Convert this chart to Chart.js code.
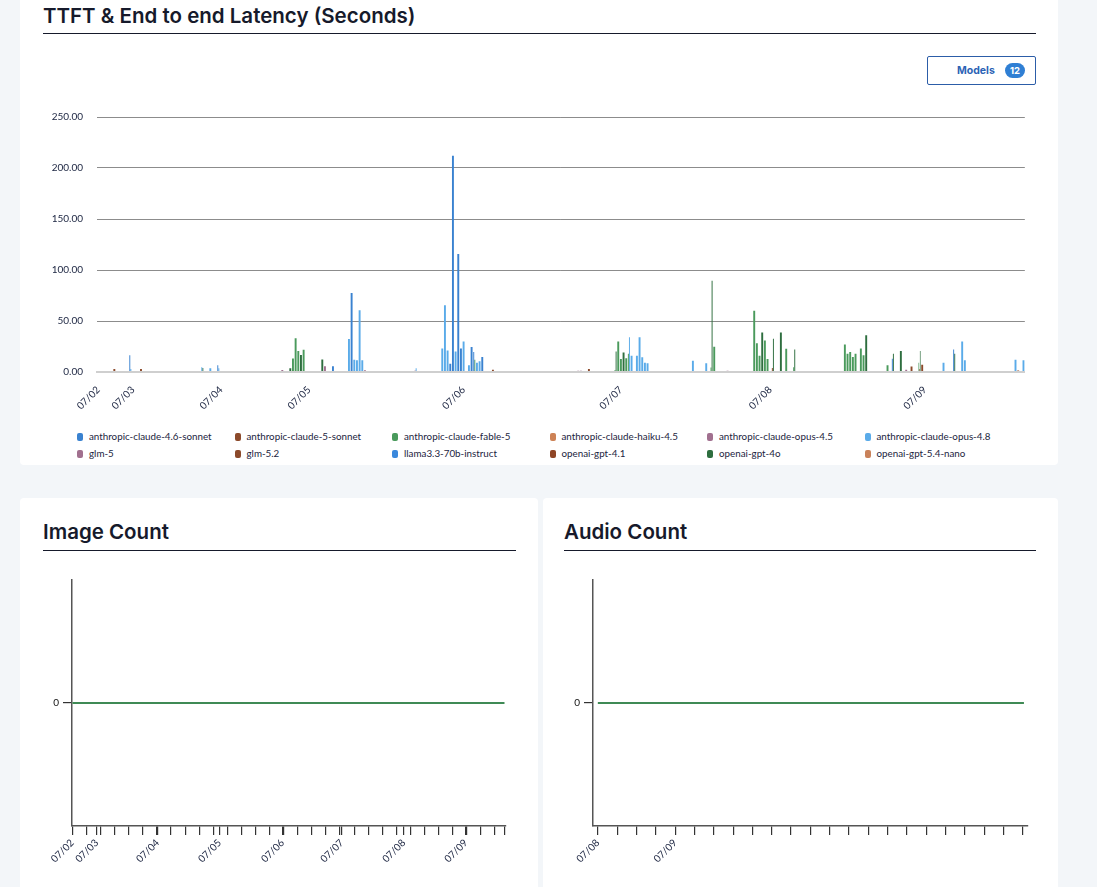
<!DOCTYPE html>
<html>
<head>
<meta charset="utf-8">
<title>Latency dashboard</title>
<script src="https://cdn.jsdelivr.net/npm/chart.js@4.4.1/dist/chart.umd.min.js"></script>
<style>
  body { margin: 0; width: 1097px; height: 887px; overflow: hidden; position: relative; background: #f3f6f9; font-family: Lato, "Open Sans", sans-serif; }
  .card { position: absolute; background: #fff; border-radius: 4px; }
  .title { position: absolute; font-family: Inter, sans-serif; font-weight: 600; font-size: 20.5px; line-height: 22px; color: #161a2b; white-space: nowrap; }
  .rule { position: absolute; height: 1px; background: #161a2b; }
  .box { position: absolute; }
  .models { position: absolute; left: 927px; top: 56px; width: 107px; height: 27px; border: 1px solid #2c5da8; border-radius: 2px; font-family: Inter, sans-serif; }
  .models span.t { position: absolute; left: 29px; top: 7px; font-size: 10.5px; font-weight: 700; color: #2c63b5; }
  .models span.b { position: absolute; left: 77px; top: 6px; width: 20px; height: 15px; border-radius: 8px; background: #2f7fd4; color: #fff; font-size: 9.5px; font-weight: 700; text-align: center; line-height: 15px; }
  #legend { position: absolute; left: 77px; top: 430px; display: grid; grid-template-columns: repeat(6, 157.5px); row-gap: 4px; }
  #legend div { font-size: 9.8px; color: #1b2440; height: 13px; line-height: 13px; white-space: nowrap; }
  #legend i { display: inline-block; width: 6px; height: 8px; border-radius: 2px; margin-right: 6px; vertical-align: -1px; }
</style>
</head>
<body>
<div class="card" style="left:20px;top:-10px;width:1038px;height:475px"></div>
<div class="title" style="left:43px;top:5px">TTFT &amp; End to end Latency (Seconds)</div>
<div class="rule" style="left:43px;top:33px;width:993px"></div>
<div class="models"><span class="t">Models</span><span class="b">12</span></div>
<div class="box" style="left:43px;top:97px;width:993px;height:323px"><canvas id="latency"></canvas></div>
<div id="legend"></div>

<div class="card" style="left:20px;top:498px;width:518px;height:400px"></div>
<div class="title" style="left:43px;top:521px">Image Count</div>
<div class="rule" style="left:43px;top:550px;width:473px"></div>
<div class="box" style="left:40px;top:570px;width:475px;height:305px"><canvas id="images"></canvas></div>

<div class="card" style="left:543px;top:498px;width:515px;height:400px"></div>
<div class="title" style="left:564px;top:521px">Audio Count</div>
<div class="rule" style="left:564px;top:550px;width:472px"></div>
<div class="box" style="left:560px;top:570px;width:477px;height:305px"><canvas id="audio"></canvas></div>

<script>
// time buckets on the latency chart, counted per day
const days = ['07/02', '07/03', '07/04', '07/05', '07/06', '07/07', '07/08', '07/09'];
const bucketsPerDay = [13, 33, 33, 58, 59, 56, 58, 38];
const yTicks = [0, 50, 100, 150, 200, 250];

const modelNames = [
  'anthropic-claude-4.6-sonnet', 'anthropic-claude-5-sonnet', 'anthropic-claude-fable-5',
  'anthropic-claude-haiku-4.5', 'anthropic-claude-opus-4.5', 'anthropic-claude-opus-4.8',
  'glm-5', 'glm-5.2', 'llama3.3-70b-instruct', 'openai-gpt-4.1', 'openai-gpt-4o', 'openai-gpt-5.4-nano'
];
const modelColors = [
  '#3a82d0', '#8c4a2b', '#4a9a5c', '#cd8256', '#a1708f', '#5aabe9',
  '#a1708f', '#8c4a2b', '#3a88dc', '#8f4526', '#2e6e3f', '#c9825a'
];

// [bucket, seconds] per model
const claude46Sonnet = [[12, 16.3], [45, 6.7], [88, 5.7], [95, 77.5], [132, 8], [133, 212], [135, 115.7], [136, 23], [140, 24.5], [141, 19.5], [144, 14.7], [298, 13], [321, 22]];
const claude5Sonnet = [];
const claudeFable5 = [[73, 13.3], [74, 33], [75, 20.7], [77, 21.7], [141, 12], [194, 2], [195, 30], [196, 12.8], [198, 13.5], [199, 18], [230, 4.3], [231, 24.7], [246, 60], [247, 28.3], [248, 16], [250, 31], [251, 12.8], [258, 22.7], [261, 4.7], [280, 27], [281, 18], [282, 19.6], [283, 14.7], [284, 18], [286, 23], [287, 16.3], [296, 6.5], [308, 9]];
const claudeHaiku45 = [];
const claudeOpus45 = [[69, 2], [85, 5.7], [100, 1.7], [119, 1.5], [180, 1.3], [181, 1.3], [236, 1.3], [303, 2.3]];
const claudeOpus48 = [[12, 3], [39, 4.7], [42, 3.7], [45, 3.7], [94, 32.3], [96, 12], [97, 11.5], [98, 60.5], [99, 11.5], [119, 3.7], [129, 23], [130, 65.4], [131, 21], [134, 20], [137, 30], [139, 6.5], [142, 9], [143, 10.5], [199, 34], [200, 16], [202, 16], [203, 34], [204, 14.5], [205, 9], [206, 8.5], [223, 11], [228, 8.5], [317, 9], [324, 30], [325, 11.5], [344, 12], [347, 11.5]];
const glm5 = [];
const glm52 = [[6, 3], [16, 3], [148, 2.3], [184, 3], [253, 4], [305, 5.5], [309, 7.2], [345, 1.5]];
const llama33 = [];
const gpt41 = [[308, 3]];
const gpt4o = [[39, 4], [72, 3.7], [76, 16.7], [84, 12.3], [194, 20], [197, 19], [230, 89.5], [249, 38.8], [253, 32.6], [256, 38.8], [261, 22], [288, 36], [298, 18], [301, 20.6], [308, 20.6], [321, 18]];
const gpt54Nano = [];

const modelSeries = [claude46Sonnet, claude5Sonnet, claudeFable5, claudeHaiku45, claudeOpus45, claudeOpus48,
  glm5, glm52, llama33, gpt41, gpt4o, gpt54Nano];

// image / audio count panels (positions on their own time axis)
const imageTimes = [0, 1.73, 6.05, 10.45, 14.92, 19.13, 23.52, 27.93, 30.67];
const imageCounts = [0, 0, 0, 0, 0, 0, 0, 0, 0];
const imageDayMarks = { 0: '07/02', 1.73: '07/03', 6.05: '07/04', 10.45: '07/05', 14.92: '07/06', 19.13: '07/07', 23.52: '07/08', 27.93: '07/09' };
const audioTimes = [0, 4, 8, 12, 16, 20, 22.05];
const audioCounts = [0, 0, 0, 0, 0, 0, 0];
const audioDayMarks = { 0: '07/08', 4: '07/09' };

const ink = '#1b2440';
Chart.defaults.font.family = 'Lato, "Open Sans", sans-serif';
Chart.defaults.color = ink;

// build bucket labels
const buckets = [];
const dayStart = {};
days.forEach((d, i) => {
  dayStart[buckets.length] = d;
  for (let k = 0; k < bucketsPerDay[i]; k++) buckets.push(d + ' #' + (k + 1));
});

const datasets = modelNames.map((name, i) => {
  const data = new Array(buckets.length).fill(null);
  modelSeries[i].forEach(([b, v]) => { data[b] = v; });
  return {
    label: name, data,
    backgroundColor: modelColors[i],
    categoryPercentage: 0.8, barPercentage: 0.9,
    skipNull: true
  };
});

new Chart(document.getElementById('latency'), {
  type: 'bar',
  data: { labels: buckets, datasets },
  options: {
    responsive: true, maintainAspectRatio: false, animation: false,
    layout: { padding: { top: 14, right: 9 } },
    plugins: { legend: { display: false }, tooltip: { enabled: false } },
    scales: {
      x: {
        grid: { display: false },
        border: { display: true, color: '#cfcfcf', width: 2 },
        afterFit: s => { s.height = 48; },
        ticks: {
          autoSkip: false, minRotation: 45, maxRotation: 45, padding: 4,
          font: { size: 10 }, color: ink,
          callback: (v, i) => dayStart[i] || ''
        }
      },
      y: {
        min: 0, max: 250,
        afterFit: s => { s.width = 54; },
        afterBuildTicks: s => { s.ticks = yTicks.map(v => ({ value: v })); },
        border: { display: false },
        grid: {
          drawTicks: false,
          color: c => c.tick.value === 0 ? '#cfcfcf' : '#8c8c8c',
          lineWidth: c => c.tick.value === 0 ? 2 : 1
        },
        ticks: { padding: 14, font: { size: 10 }, color: ink, callback: v => Number(v).toFixed(2) }
      }
    }
  }
});

// html legend in six columns
const legend = document.getElementById('legend');
modelNames.forEach((name, i) => {
  const item = document.createElement('div');
  item.innerHTML = '<i style="background:' + modelColors[i] + '"></i>' + name;
  legend.appendChild(item);
});

function countChart(id, times, counts, marks, xMin, xMax, tickVals, yWidth) {
  new Chart(document.getElementById(id), {
    type: 'line',
    data: {
      datasets: [{
        data: times.map((t, i) => ({ x: t, y: counts[i] })),
        borderColor: '#3f8a55', borderWidth: 2, pointRadius: 0
      }]
    },
    options: {
      responsive: true, maintainAspectRatio: false, animation: false,
      layout: { padding: { top: 10, right: 9 } },
      plugins: { legend: { display: false }, tooltip: { enabled: false } },
      scales: {
        x: {
          type: 'linear', min: xMin, max: xMax,
          afterFit: s => { s.height = 49; },
          afterBuildTicks: s => { s.ticks = tickVals.map(v => ({ value: v })); },
          border: { display: true, color: '#555', width: 1.5 },
          grid: { drawOnChartArea: false, drawTicks: true, tickLength: 9, color: '#333', lineWidth: 1.2 },
          ticks: {
            autoSkip: false, minRotation: 45, maxRotation: 45, padding: 2,
            font: { size: 10 }, color: ink,
            callback: v => marks[v] || ''
          }
        },
        y: {
          min: -1, max: 1,
          afterFit: s => { s.width = yWidth; },
          afterBuildTicks: s => { s.ticks = [{ value: 0 }]; },
          border: { display: true, color: '#555', width: 1.5 },
          grid: { drawOnChartArea: false, drawTicks: true, tickLength: 9, color: '#333', lineWidth: 1.2 },
          ticks: { padding: 4, font: { size: 10 }, color: '#111' }
        }
      }
    }
  });
}

const imageTicks = [];
for (let t = 0; t <= 30; t++) imageTicks.push(t);
Object.keys(imageDayMarks).forEach(k => { if (!imageTicks.includes(+k)) imageTicks.push(+k); });
imageTicks.push(30.67);
imageTicks.sort((a, b) => a - b);

const audioTicks = [];
for (let t = 0; t <= 22; t++) audioTicks.push(t);

countChart('images', imageTimes, imageCounts, imageDayMarks, -0.03, 30.75, imageTicks, 32);
countChart('audio', audioTimes, audioCounts, audioDayMarks, -0.25, 22.26, audioTicks, 33);
</script>
</body>
</html>
